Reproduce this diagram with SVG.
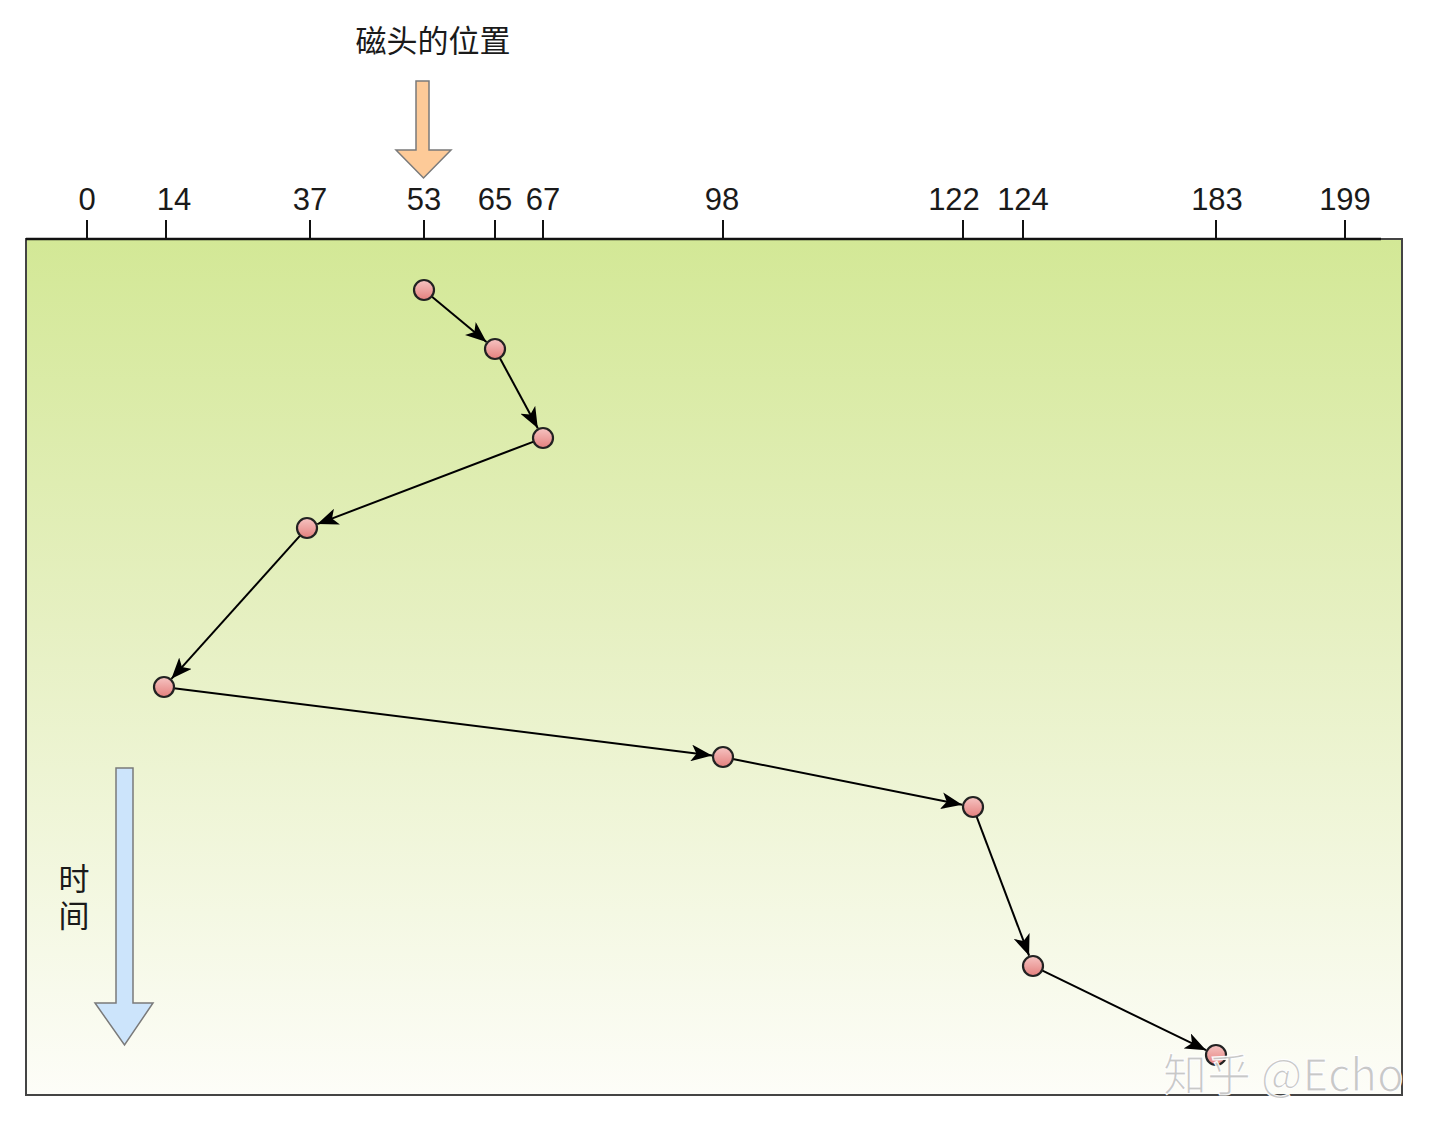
<svg xmlns="http://www.w3.org/2000/svg" width="1440" height="1136" viewBox="0 0 1440 1136">
<defs>
<linearGradient id="bg" x1="0" y1="0" x2="0" y2="1">
<stop offset="0" stop-color="#d3e896"/>
<stop offset="0.45" stop-color="#e6f0c2"/>
<stop offset="1" stop-color="#fdfdf8"/>
</linearGradient>
<linearGradient id="dot" x1="0" y1="0" x2="0" y2="1">
<stop offset="0" stop-color="#f6c4c2"/>
<stop offset="1" stop-color="#e4807e"/>
</linearGradient>
<marker id="ah" markerUnits="userSpaceOnUse" viewBox="0 0 20 16" refX="20" refY="8" markerWidth="21" markerHeight="17" orient="auto">
<path d="M0,0 L20,8 L0,16 L5,8 Z" fill="#000"/>
</marker>
<clipPath id="frame"><rect x="0" y="0" width="1403" height="1136"/></clipPath>
</defs>
<style>
.num{font-family:"Liberation Sans",Arial,sans-serif;font-size:31px;fill:#1a1a1a;text-anchor:middle}
.cjk{font-family:"Noto Sans CJK SC","Liberation Sans",sans-serif;font-size:31px;fill:#1a1a1a}
.tick{stroke:#111;stroke-width:2}
.dot{fill:url(#dot);stroke:#222;stroke-width:2.2}
.edge{stroke:#000;stroke-width:2;fill:none;marker-end:url(#ah)}
.wm{font-family:"Noto Sans CJK SC","Liberation Sans",sans-serif;font-size:44px;fill:#c6c6c6;stroke:#ffffff;stroke-width:1.2;opacity:0.95}
</style>
<rect x="0" y="0" width="1440" height="1136" fill="#ffffff"/>
<g id="chart">
<rect x="26" y="239" width="1376" height="856" fill="url(#bg)" stroke="#444" stroke-width="2"/>
<line x1="26" y1="239" x2="1381" y2="239" stroke="#111" stroke-width="2.5"/>
</g>
<g id="axis">
<line class="tick" x1="87" y1="220" x2="87" y2="239"/>
<line class="tick" x1="166" y1="220" x2="166" y2="239"/>
<line class="tick" x1="310" y1="220" x2="310" y2="239"/>
<line class="tick" x1="424" y1="220" x2="424" y2="239"/>
<line class="tick" x1="495" y1="220" x2="495" y2="239"/>
<line class="tick" x1="543" y1="220" x2="543" y2="239"/>
<line class="tick" x1="723" y1="220" x2="723" y2="239"/>
<line class="tick" x1="963" y1="220" x2="963" y2="239"/>
<line class="tick" x1="1023" y1="220" x2="1023" y2="239"/>
<line class="tick" x1="1216" y1="220" x2="1216" y2="239"/>
<line class="tick" x1="1345" y1="220" x2="1345" y2="239"/>
<text class="num" x="87" y="210">0</text>
<text class="num" x="174" y="210">14</text>
<text class="num" x="310" y="210">37</text>
<text class="num" x="424" y="210">53</text>
<text class="num" x="495" y="210">65</text>
<text class="num" x="543" y="210">67</text>
<text class="num" x="722" y="210">98</text>
<text class="num" x="954" y="210">122</text>
<text class="num" x="1023" y="210">124</text>
<text class="num" x="1217" y="210">183</text>
<text class="num" x="1345" y="210">199</text>
</g>
<g id="head-label">
<text class="cjk" x="433" y="52" text-anchor="middle">磁头的位置</text>
<path d="M416,81 L429,81 L429,150 L451,150 L423.5,178 L396,150 L416,150 Z" fill="#fdca98" stroke="#7a7a7a" stroke-width="1.5"/>
</g>
<g id="time-label">
<text class="cjk" x="74" y="863" font-size="30" writing-mode="vertical-rl" style="writing-mode:vertical-rl" letter-spacing="6">时间</text>
<path d="M116,768 L133,768 L133,1003 L153,1003 L124.5,1045 L95,1003 L116,1003 Z" fill="#cce4fb" stroke="#7a7a7a" stroke-width="1.5"/>
</g>
<g id="connectors">
<line class="edge" x1="431.7" y1="296.4" x2="486.5" y2="342.0"/>
<line class="edge" x1="499.7" y1="357.8" x2="537.8" y2="428.3"/>
<line class="edge" x1="533.7" y1="441.6" x2="317.3" y2="524.1"/>
<line class="edge" x1="300.3" y1="535.4" x2="171.4" y2="678.8"/>
<line class="edge" x1="173.9" y1="688.2" x2="712.1" y2="755.6"/>
<line class="edge" x1="732.8" y1="759.0" x2="962.2" y2="804.8"/>
<line class="edge" x1="976.5" y1="816.4" x2="1029.1" y2="955.7"/>
<line class="edge" x1="1042.0" y1="970.4" x2="1206.1" y2="1050.2"/>
</g>
<g id="n53"><circle class="dot" cx="424" cy="290" r="10"/></g>
<g id="n65"><circle class="dot" cx="495" cy="349" r="10"/></g>
<g id="n67"><circle class="dot" cx="543" cy="438" r="10"/></g>
<g id="n37"><circle class="dot" cx="307" cy="528" r="10"/></g>
<g id="n14"><circle class="dot" cx="164" cy="687" r="10"/></g>
<g id="n98"><circle class="dot" cx="723" cy="757" r="10"/></g>
<g id="n122"><circle class="dot" cx="973" cy="807" r="10"/></g>
<g id="n124"><circle class="dot" cx="1033" cy="966" r="10"/></g>
<g id="n183"><circle class="dot" cx="1216" cy="1055" r="10"/></g>
<g id="watermark" clip-path="url(#frame)">
<text class="wm" x="1163" y="1091">知乎 @Echo</text>
</g>
</svg>
